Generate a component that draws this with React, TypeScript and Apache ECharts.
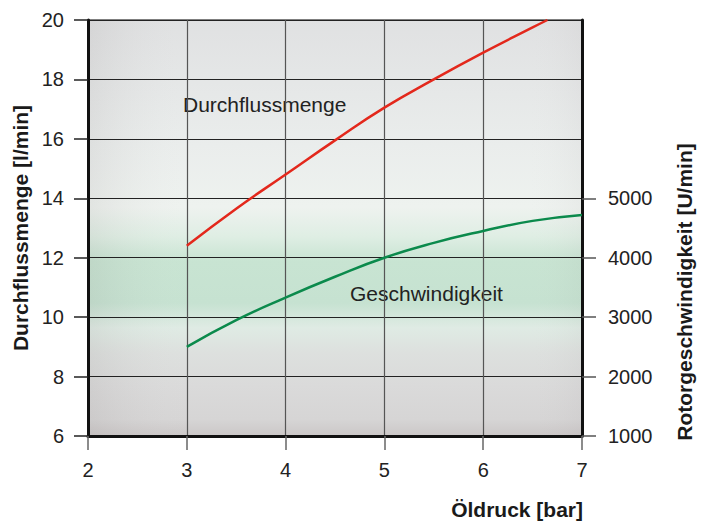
import React, { useEffect, useRef } from "react";
import * as echarts from "echarts";

const flowPressure = [3, 3.5, 4, 4.5, 5, 5.5, 6, 6.5, 6.65];
const flowValues = [12.4, 13.65, 14.8, 15.95, 17.05, 18.0, 18.9, 19.75, 20];
const speedPressure = [3, 3.5, 4, 4.5, 5, 5.5, 6, 6.5, 7];
const speedValues = [2500, 2950, 3330, 3680, 4000, 4250, 4450, 4620, 4720];
const rightTicks = [1000, 2000, 3000, 4000, 5000];

const FONT = "'Liberation Sans', Arial, Helvetica, sans-serif";

export default function App() {
  const ref = useRef<HTMLDivElement>(null);
  useEffect(() => {
    if (!ref.current) return;
    const chart = echarts.init(ref.current, undefined, { renderer: "svg" });
    const gx = 88, gy = 20, gw = 494, gh = 416;
    chart.setOption({
      animation: false,
      backgroundColor: "#ffffff",
      textStyle: { fontFamily: FONT },
      grid: {
        left: gx, top: gy, width: gw, height: gh,
        show: true, borderColor: "#555", borderWidth: 1.5,
        backgroundColor: "transparent",
      },
      graphic: [
        {
          type: "rect", z: -10, silent: true,
          shape: { x: gx, y: gy, width: gw, height: gh },
          style: {
            fill: new echarts.graphic.LinearGradient(0, 0, 0, 1, [
              { offset: 0, color: "#e0e1e2" },
              { offset: 0.3, color: "#eaedec" },
              { offset: 0.45, color: "#eef2ef" },
              { offset: 0.52, color: "#dfeee4" },
              { offset: 0.58, color: "#c8e4d2" },
              { offset: 0.68, color: "#c6e2d1" },
              { offset: 0.74, color: "#dfebe4" },
              { offset: 0.8, color: "#dde0de" },
              { offset: 0.88, color: "#dadada" },
              { offset: 0.96, color: "#d6d5d5" },
              { offset: 1, color: "#cbc7c7" },
            ]),
          },
        },
        {
          type: "rect", z: -9, silent: true,
          shape: { x: gx, y: gy, width: gw, height: gh },
          style: {
            fill: new echarts.graphic.LinearGradient(0, 0, 1, 0, [
              { offset: 0, color: "rgba(110,100,100,0.10)" },
              { offset: 0.22, color: "rgba(255,255,255,0)" },
              { offset: 0.88, color: "rgba(255,255,255,0)" },
              { offset: 1, color: "rgba(90,70,80,0.04)" },
            ]),
          },
        },
        {
          type: "text", left: 183, top: 94, silent: true,
          style: { text: "Durchflussmenge", fontSize: 21, fontFamily: FONT, fill: "#222" },
        },
        {
          type: "text", left: 350, top: 283, silent: true,
          style: { text: "Geschwindigkeit", fontSize: 21, fontFamily: FONT, fill: "#222" },
        },
        {
          type: "text", x: 684, y: 292, rotation: Math.PI / 2, silent: true,
          style: {
            text: "Rotorgeschwindigkeit [U/min]", fontSize: 21, fontWeight: "bold",
            fontFamily: FONT, fill: "#1a1a1a", align: "center", verticalAlign: "middle",
          },
        },
        {
          type: "text", x: 583, y: 509, silent: true,
          style: {
            text: "Öldruck [bar]", fontSize: 21, fontWeight: "bold",
            fontFamily: FONT, fill: "#1a1a1a", align: "right", verticalAlign: "middle",
          },
        },
      ],
      xAxis: {
        type: "value", min: 2, max: 7, interval: 1,
        axisLine: { show: true, onZero: false, lineStyle: { color: "#111", width: 3 } },
        axisTick: { show: true, length: 14, lineStyle: { color: "#666", width: 1.5 } },
        axisLabel: { margin: 24, fontSize: 20, color: "#222", fontFamily: FONT },
        splitLine: { show: true, lineStyle: { color: "#555", width: 1.2 } },
      },
      yAxis: [
        {
          type: "value", min: 6, max: 20, interval: 2, position: "left",
          name: "Durchflussmenge [l/min]", nameLocation: "middle", nameGap: 53,
          nameTextStyle: { fontSize: 21, fontWeight: "bold", color: "#1a1a1a", fontFamily: FONT },
          axisLine: { show: true, onZero: false, lineStyle: { color: "#111", width: 3 } },
          axisTick: { show: true, length: 14, lineStyle: { color: "#222", width: 1.5 } },
          axisLabel: { margin: 24, fontSize: 20, color: "#222", fontFamily: FONT },
          splitLine: { show: true, lineStyle: { color: "#222", width: 1.2 } },
        },
        {
          type: "value", min: 1000, max: 8000, interval: 1000, position: "right",
          axisLine: { show: true, onZero: false, lineStyle: { color: "#111", width: 3 } },
          axisTick: { show: true, length: 14, customValues: rightTicks, lineStyle: { color: "#555", width: 1.5 } },
          axisLabel: {
            margin: 26, fontSize: 20, color: "#222", fontFamily: FONT,
            customValues: rightTicks,
            formatter: (v: number) => String(v),
          },
          splitLine: { show: false },
        },
      ],
      series: [
        {
          name: "Durchflussmenge", type: "line", yAxisIndex: 0, smooth: true,
          symbol: "none", lineStyle: { color: "#e3281c", width: 2.5 },
          data: flowPressure.map((p, i) => [p, flowValues[i]]),
        },
        {
          name: "Geschwindigkeit", type: "line", yAxisIndex: 1, smooth: true,
          symbol: "none", lineStyle: { color: "#0b8a4c", width: 2.5 },
          data: speedPressure.map((p, i) => [p, speedValues[i]]),
        },
      ],
    });
    return () => chart.dispose();
  }, []);
  return (
    <div
      ref={ref}
      style={{ position: "absolute", left: 0, top: 0, width: 710, height: 522 }}
    />
  );
}
